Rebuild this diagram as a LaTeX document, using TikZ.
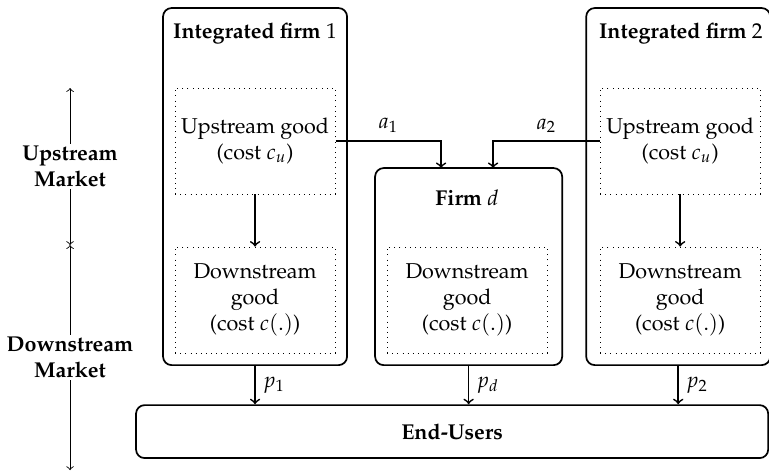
\documentclass[tikz,border=0pt]{standalone}
\usepackage[T1]{fontenc}
\usepackage{mathpazo}
\usetikzlibrary{arrows,positioning}

\begin{document}
\begin{tikzpicture}[
        firmbox/.style={draw, thick, rounded corners=4pt, inner sep=0pt},
        goodbox/.style={draw, dotted, align=center, inner sep=0pt, minimum width=2.616cm, minimum height=1.733cm},
        flow/.style={->, thick},
        mkt/.style={fill=white, align=center, font=\bfseries, inner sep=1pt}
    ]

        \useasboundingbox (0,0) rectangle (12.57,-7.72);

        \node[firmbox, minimum width=3.008cm, minimum height=5.837cm] (firm1) at (4.169,-3.05) {};
        \node[firmbox, minimum width=3.008cm, minimum height=5.837cm] (firm2) at (11.086,-3.05) {};
        \node[firmbox, minimum width=3.058cm, minimum height=3.221cm] (firmd) at (7.66,-4.358) {};
        \node[firmbox, minimum width=10.333cm, minimum height=0.866cm, font=\bfseries] (users) at (7.39,-7.055) {End-Users};

        \node (t1) at (4.169,-0.54) {\textbf{Integrated firm} $1$};
        \node (t2) at (11.13,-0.54) {\textbf{Integrated firm} $2$};
        \node (td) at (7.635,-3.237) {\textbf{Firm} $d$};

        \node[goodbox] (up1) at (4.169,-2.305) {Upstream good\\(cost $c_u$)};
        \node[goodbox] (up2) at (11.118,-2.305) {Upstream good\\(cost $c_u$)};

        \node[goodbox] (down1) at (4.169,-4.905) {Downstream\\good\\(cost $c(.)$)};
        \node[goodbox] (downd) at (7.635,-4.905) {Downstream\\good\\(cost $c(.)$)};
        \node[goodbox] (down2) at (11.118,-4.905) {Downstream\\good\\(cost $c(.)$)};

        \draw[flow] (up1) -- (down1);
        \draw[flow] (up2) -- (down2);

        \coordinate (ina) at (7.21,-2.747);
        \coordinate (inb) at (8.06,-2.747);
        \draw[flow] (up1.east) -| (ina) node[pos=0.25, above] {$a_1$};
        \draw[flow] (up2.west) -| (inb) node[pos=0.25, above] {$a_2$};

        \draw[flow] (firm1.south) -- (firm1.south |- users.north) node[midway, right] {$p_1$};
        \draw[flow] (firmd.south) -- (firmd.south |- users.north) node[midway, right] {$p_d$};
        \draw[flow] (firm2.south) -- (firm2.south |- users.north) node[midway, right] {$p_2$};

        \coordinate (utop) at (1.145,-1.439);
        \coordinate (umid) at (1.145,-4.006);
        \coordinate (dbot) at (1.145,-7.685);
        \draw[<->] (utop) -- (umid) node[mkt, midway] {Upstream\\Market};
        \draw[<->] (umid) -- (dbot) node[mkt, midway] {Downstream\\Market};

\end{tikzpicture}
\end{document}
